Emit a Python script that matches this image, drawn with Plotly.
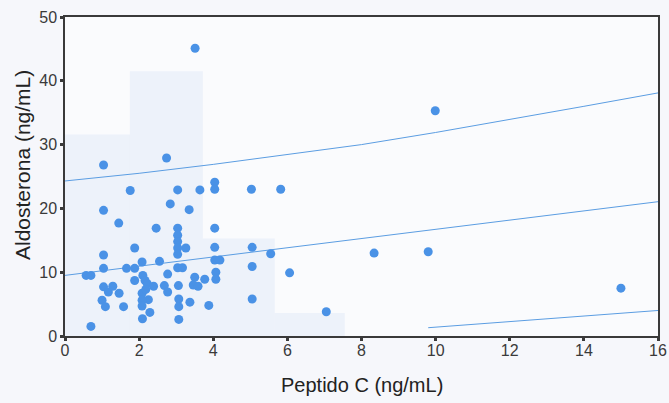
import plotly.graph_objects as go

# Peptido C vs aldosterona measurements
peptido_c = [
    0.57, 0.70, 0.70,
    1.04, 1.04, 1.04, 1.04, 1.04, 1.00, 1.09, 1.17, 1.29, 1.46, 1.45, 1.58,
    1.66, 1.76, 1.88, 1.88, 1.88,
    2.08, 2.10, 2.16, 2.22, 2.08, 2.18, 2.25, 2.08, 2.08, 2.29, 2.09,
    2.39, 2.46, 2.55, 2.68, 2.77, 2.77, 2.74, 2.84,
    3.04, 3.04, 3.04, 3.04, 3.04, 3.04, 3.04, 3.17, 3.06, 3.07, 3.07, 3.07,
    3.26, 3.35, 3.37, 3.50, 3.46, 3.59, 3.51, 3.64, 3.77, 3.88,
    4.04, 4.04, 4.04, 4.04, 4.04, 4.18, 4.07, 4.07,
    5.03, 5.82, 5.05, 5.55, 5.05, 6.06, 5.05, 7.05,
    8.34, 9.80, 9.99, 15.0,
]
aldosterona = [
    9.5, 9.5, 1.5,
    26.8, 19.7, 12.7, 10.6, 7.7, 5.6, 4.6, 6.9, 7.8, 6.7, 17.7, 4.6,
    10.6, 22.8, 13.8, 10.6, 8.7,
    11.6, 9.5, 8.7, 8.2, 6.7, 7.3, 5.7, 5.6, 4.7, 3.7, 2.7,
    7.8, 16.9, 11.7, 7.9, 6.9, 9.7, 27.9, 20.7,
    22.9, 16.9, 15.8, 14.8, 13.8, 12.8, 10.7, 10.7, 7.9, 5.8, 4.6, 2.6,
    13.8, 19.8, 5.3, 9.2, 8.0, 7.8, 45.1, 22.9, 8.9, 4.8,
    24.1, 23.0, 16.9, 13.9, 11.9, 11.9, 10.0, 8.9,
    23.0, 23.0, 13.9, 12.9, 10.9, 9.9, 5.8, 3.8,
    13.0, 13.2, 35.3, 7.5,
]

# Regression line and prediction band
fit_x = [0, 2, 4, 6, 8, 10, 12, 14, 16]
fit_mid = [9.5, 10.95, 12.4, 13.8, 15.3, 16.7, 18.2, 19.6, 21.05]
fit_upper = [24.3, 25.5, 26.9, 28.4, 30.0, 31.9, 33.9, 36.0, 38.1]
low_x = [9.8, 12, 14, 16]
fit_lower = [1.3, 2.3, 3.15, 4.0]

# Pale shaded backdrop blocks
block_left = [0, 1.75, 3.72, 5.66]
block_right = [1.75, 3.72, 5.66, 7.55]
block_top = [31.6, 41.5, 15.3, 3.6]

x_ticks = [0, 2, 4, 6, 8, 10, 12, 14, 16]
y_ticks = [0, 10, 20, 30, 40, 50]

font_family = "Liberation Sans, Arial, sans-serif"
line_col = "#5b9de2"
dot_col = "#4a92e6"
axis_col = "#3a3a3a"

fig = go.Figure()

for xs, ys in ((fit_x, fit_upper), (fit_x, fit_mid), (low_x, fit_lower)):
    fig.add_trace(go.Scatter(x=xs, y=ys, mode="lines",
                             line=dict(color=line_col, width=1),
                             hoverinfo="skip", showlegend=False))

fig.add_trace(go.Scatter(x=peptido_c, y=aldosterona, mode="markers",
                         marker=dict(color=dot_col, size=9, line=dict(width=0)),
                         showlegend=False))

shapes = [
    dict(type="rect", xref="x", yref="y", x0=l, x1=r, y0=0, y1=t,
         fillcolor="rgba(205,218,244,0.28)", line=dict(width=0), layer="below")
    for l, r, t in zip(block_left, block_right, block_top)
]

axis_common = dict(
    showgrid=False, zeroline=False, automargin=False,
    showline=True, linecolor=axis_col, linewidth=1.5, mirror=True,
    ticks="outside", ticklen=3, tickwidth=3, tickcolor=axis_col,
    tickfont=dict(family=font_family, size=16, color=axis_col),
)

fig.update_layout(
    width=669, height=403,
    margin=dict(l=65, r=11, t=17, b=67),
    paper_bgcolor="#f6f7fb",
    plot_bgcolor="#fafbfd",
    shapes=shapes,
    xaxis=dict(range=[0, 16], tickvals=x_ticks, ticklabelstandoff=-4,
               ticktext=[str(v) for v in x_ticks], **axis_common),
    yaxis=dict(range=[0, 50], tickvals=y_ticks,
               ticktext=[str(v) for v in y_ticks], **axis_common),
    annotations=[
        dict(text="Peptido C (ng/mL)", xref="paper", yref="paper",
             x=0.5, y=0, yshift=-49, xanchor="center", yanchor="middle",
             showarrow=False,
             font=dict(family=font_family, size=20, color="#222222")),
        dict(text="Aldosterona (ng/mL)", xref="paper", yref="paper",
             x=0, y=0.536, xshift=-43, xanchor="center", yanchor="middle",
             textangle=-90, showarrow=False,
             font=dict(family=font_family, size=21, color="#222222")),
    ],
)

fig.write_html("out.html")
